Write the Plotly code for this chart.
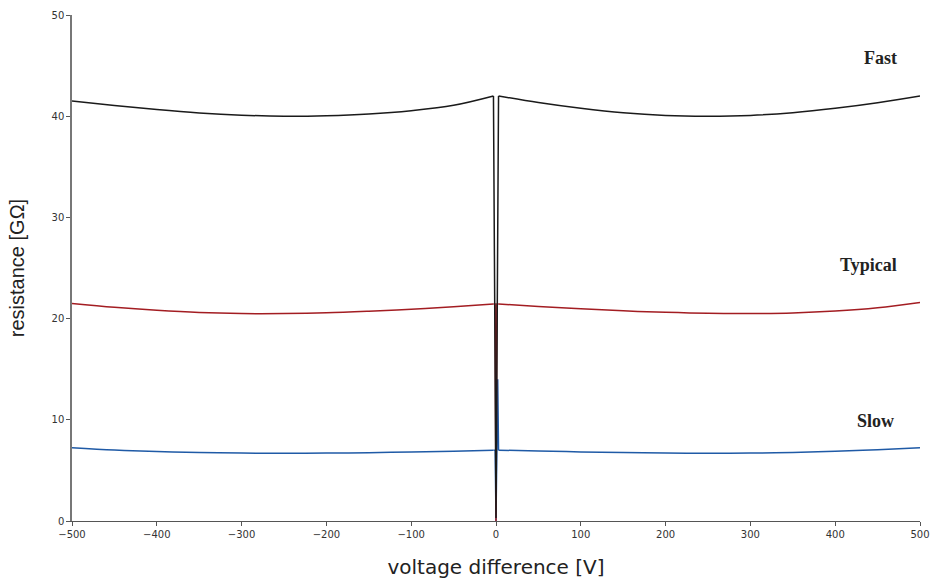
import plotly.graph_objects as go

# voltage difference [V] for the smooth branches
volt_left = [-500, -450, -400, -350, -300, -250, -200, -150, -100, -50, -3]
volt_right = [3, 50, 100, 150, 200, 250, 300, 350, 400, 450, 500]

# resistance [GOhm]
fast_left = [41.5, 41.05, 40.65, 40.32, 40.1, 40.0, 40.05, 40.22, 40.55, 41.08, 42.0]
fast_right = [42.0, 41.35, 40.78, 40.33, 40.07, 40.0, 40.08, 40.35, 40.78, 41.33, 42.0]
typ_left = [21.5, 21.12, 20.82, 20.6, 20.5, 20.5, 20.57, 20.73, 20.93, 21.17, 21.45]
typ_right = [21.45, 21.2, 20.97, 20.77, 20.62, 20.52, 20.5, 20.56, 20.75, 21.08, 21.6]
slow_left = [7.25, 7.02, 6.86, 6.76, 6.71, 6.7, 6.71, 6.75, 6.82, 6.9, 7.0]
slow_right = [7.0, 6.92, 6.83, 6.76, 6.71, 6.7, 6.71, 6.78, 6.9, 7.05, 7.25]

# the drop around 0 V
fast_dip_v = [-3, 0, 3]
fast_dip_r = [42.0, 0.3, 42.0]
typ_dip_v = [-3, -1, 0, 1, 3]
typ_dip_r = [21.45, 21.45, 0.0, 21.45, 21.45]
slow_dip_v = [-3, -1, 0, 2, 3]
slow_dip_r = [7.0, 7.0, 0.0, 14.0, 7.0]

labels = ["Fast", "Typical", "Slow"]
label_x = [453, 439, 448]
label_y = [45.8, 25.3, 9.9]

series = [
    ("Slow", "#1f5aa6", slow_left, slow_right, slow_dip_v, slow_dip_r),
    ("Typical", "#a31d22", typ_left, typ_right, typ_dip_v, typ_dip_r),
    ("Fast", "#1a1a1a", fast_left, fast_right, fast_dip_v, fast_dip_r),
]

fig = go.Figure()
for name, col, left, right, dv, dr in series:
    fig.add_trace(go.Scatter(x=volt_left, y=left, mode="lines", name=name,
                             line=dict(color=col, width=1.5, shape="spline", smoothing=1)))
    fig.add_trace(go.Scatter(x=volt_right, y=right, mode="lines", name=name,
                             line=dict(color=col, width=1.5, shape="spline", smoothing=1)))
    fig.add_trace(go.Scatter(x=dv, y=dr, mode="lines", name=name,
                             line=dict(color=col, width=1.5)))

for t, xx, yy in zip(labels, label_x, label_y):
    fig.add_annotation(x=xx, y=yy, text="<b>%s</b>" % t, showarrow=False,
                       font=dict(family="Liberation Serif", size=18, color="#222"))

fig.update_layout(
    width=932, height=580,
    margin=dict(l=72, r=12, t=15, b=59),
    plot_bgcolor="white", paper_bgcolor="white",
    showlegend=False,
    xaxis=dict(range=[-500, 500], tickmode="array", automargin=False,
               tickvals=[-500, -400, -300, -200, -100, 0, 100, 200, 300, 400, 500],
               showgrid=False, zeroline=False, showline=True, linecolor="#555", linewidth=1,
               ticks="outside", ticklen=4, tickcolor="#555",
               tickfont=dict(family="DejaVu Sans", size=10, color="#333"),
               title=dict(text="voltage difference [V]", standoff=20,
                          font=dict(family="DejaVu Sans", size=20, color="#222"))),
    yaxis=dict(range=[0, 50], tickmode="array", tickvals=[0, 10, 20, 30, 40, 50], automargin=False,
               showgrid=False, zeroline=False, showline=True, linecolor="#777", linewidth=1.5,
               ticks="outside", ticklen=4, tickcolor="#555",
               tickfont=dict(family="DejaVu Sans", size=10, color="#333"),
               title=dict(text="resistance [GΩ]", standoff=22,
                          font=dict(family="Liberation Sans", size=20, color="#222"))),
)

fig.write_html("out.html")
